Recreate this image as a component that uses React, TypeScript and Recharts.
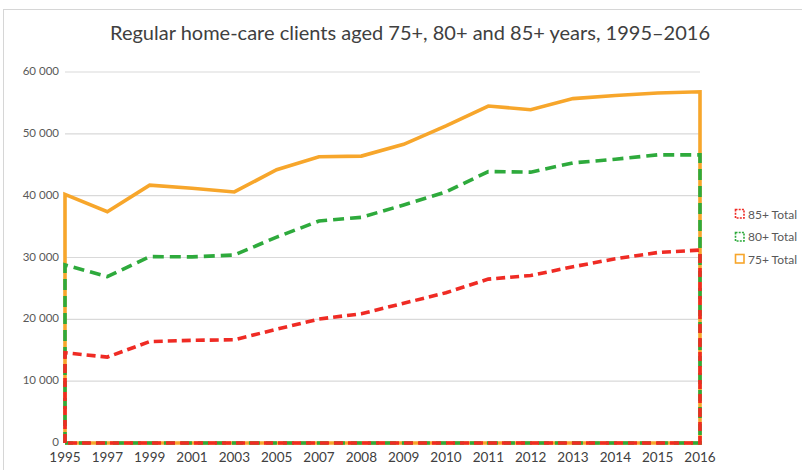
import React from "react";
import {
  LineChart,
  Line,
  XAxis,
  YAxis,
  CartesianGrid,
} from "recharts";

const years = [
  "1995", "1997", "1999", "2001", "2003", "2005", "2007", "2008",
  "2009", "2010", "2011", "2012", "2013", "2014", "2015", "2016",
];

const total75 = [
  40200, 37400, 41700, 41200, 40600, 44200, 46300, 46400,
  48300, 51300, 54500, 53900, 55700, 56200, 56600, 56800,
];

const total80 = [
  28800, 26900, 30150, 30100, 30400, 33300, 35900, 36500,
  38500, 40600, 43900, 43800, 45300, 45900, 46600, 46600,
];

const total85 = [
  14600, 13900, 16400, 16600, 16700, 18400, 20050, 20900,
  22600, 24300, 26500, 27100, 28500, 29800, 30800, 31200,
];

const yTicks = [0, 10000, 20000, 30000, 40000, 50000, 60000];

const series = [
  { key: "85+ Total", values: total85, color: "#ef2b24", dash: "9 5" },
  { key: "80+ Total", values: total80, color: "#2eaa3c", dash: "11 6" },
  { key: "75+ Total", values: total75, color: "#f7a62b", dash: undefined },
];

// Excel area chart with no fill: outline goes up the first year, along the values,
// down the last year and back along zero
const outline = (values: number[]) => {
  const last = values.length - 1;
  return [
    { i: 0, v: 0 },
    ...values.map((v, i) => ({ i, v })),
    { i: last, v: 0 },
    { i: 0, v: 0 },
  ];
};

const fmtY = (v: number) => (v === 0 ? "0" : `${v / 1000} 000`);

const LegendBox = () => (
  <div
    style={{
      position: "absolute",
      left: 734,
      top: 203,
      fontFamily: "Lato, sans-serif",
      fontSize: 12,
      color: "#595959",
      whiteSpace: "nowrap",
    }}
  >
    {series.map((s) => (
      <div
        key={s.key}
        style={{ display: "flex", alignItems: "center", height: 22.5 }}
      >
        <svg width={12} height={12} style={{ marginRight: 2 }}>
          <rect
            x={1.5}
            y={1.5}
            width={8.5}
            height={8.5}
            fill="none"
            stroke={s.color}
            strokeWidth={1.6}
            strokeDasharray={s.dash ? "2 1.2" : undefined}
          />
        </svg>
        <span>{s.key}</span>
      </div>
    ))}
  </div>
);

export default function App() {
  const drawOrder = [...series].reverse();
  return (
    <div
      style={{
        position: "absolute",
        left: 0,
        top: 0,
        width: 802,
        height: 470,
        background: "#fff",
        overflow: "hidden",
      }}
    >
      <div
        style={{
          position: "absolute",
          left: 3,
          top: 9,
          width: 900,
          height: 600,
          border: "1px solid #d6d6d6",
        }}
      />
      <div
        style={{
          position: "absolute",
          left: 0,
          top: 20,
          width: 820,
          textAlign: "center",
          fontFamily: "Lato, sans-serif",
          fontSize: 20,
          color: "#404040",
        }}
      >
        Regular home-care clients aged 75+, 80+ and 85+ years, 1995–2016
      </div>
      <div style={{ position: "absolute", left: 0, top: 0 }}>
        <LineChart
          width={802}
          height={470}
          margin={{ top: 72, right: 102, left: 0, bottom: 0 }}
        >
          <CartesianGrid vertical={false} stroke="#d9d9d9" strokeWidth={1.2} />
          <XAxis
            dataKey="i"
            type="number"
            domain={[0, years.length - 1]}
            ticks={years.map((_, i) => i)}
            tickFormatter={(i: number) => years[i]}
            interval={0}
            axisLine={false}
            tickLine={false}
            tickSize={0}
            tickMargin={9}
            height={27}
            tick={{ fill: "#404040", fontSize: 13.5, fontFamily: "Lato, sans-serif" }}
          />
          <YAxis
            type="number"
            domain={[0, 60000]}
            ticks={yTicks}
            tickFormatter={fmtY}
            axisLine={false}
            tickLine={false}
            tickSize={0}
            tickMargin={6}
            width={65}
            tick={{ fill: "#595959", fontSize: 11.5, fontFamily: "Lato, sans-serif", dy: -1 }}
          />
          {drawOrder.map((s) => (
            <Line
              key={s.key}
              name={s.key}
              data={outline(s.values)}
              dataKey="v"
              type="linear"
              stroke={s.color}
              strokeWidth={3.6}
              strokeDasharray={s.dash}
              dot={false}
              activeDot={false}
              isAnimationActive={false}
            />
          ))}
        </LineChart>
      </div>
      <LegendBox />
    </div>
  );
}
